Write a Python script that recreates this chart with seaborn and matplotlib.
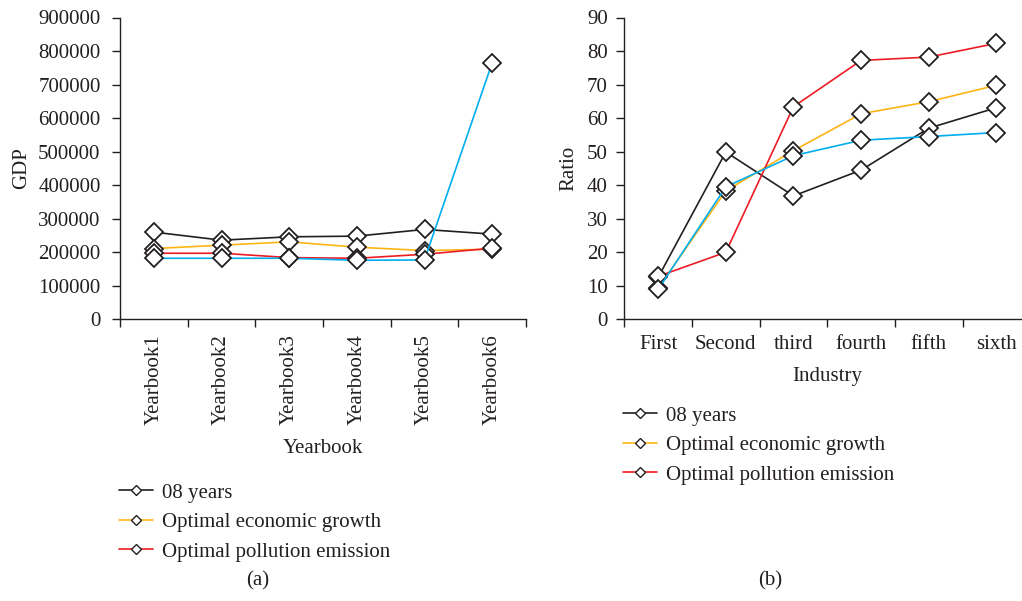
import matplotlib
matplotlib.use("Agg")
import matplotlib.pyplot as plt
import seaborn as sns
import pandas as pd
from matplotlib.lines import Line2D
from matplotlib.ticker import FixedLocator, NullFormatter, FixedFormatter

# ---------------- data ----------------
yearbooks = ["Yearbook1", "Yearbook2", "Yearbook3", "Yearbook4", "Yearbook5", "Yearbook6"]
gdp_08 = [260000, 236000, 246000, 248000, 268000, 254000]
gdp_econ = [211000, 221000, 231000, 215000, 205000, 209000]
gdp_poll = [197000, 197000, 184000, 182000, 194000, 212000]
gdp_other = [182000, 182000, 182000, 176000, 177000, 765000]

industries = ["First", "Second", "third", "fourth", "fifth", "sixth"]
ratio_08 = [12.5, 49.9, 36.8, 44.5, 57.0, 63.1]
ratio_econ = [9.3, 38.3, 50.3, 61.3, 64.9, 69.8]
ratio_poll = [12.8, 20.0, 63.4, 77.2, 78.2, 82.3]
ratio_other = [8.9, 39.5, 48.8, 53.4, 54.5, 55.7]

series_names = ["08 years", "Optimal economic growth", "Optimal pollution emission", "_other"]
colors = ["#231F20", "#FDB515", "#ED1C24", "#00AEEF"]

FS = 15

sns.set_style("ticks")
plt.rcParams["font.family"] = ["Liberation Serif", "DejaVu Serif"]
plt.rcParams["font.size"] = FS
plt.rcParams["axes.linewidth"] = 1.0
plt.rcParams["xtick.major.width"] = 1.0
plt.rcParams["ytick.major.width"] = 1.0
plt.rcParams["text.color"] = "#231F20"
plt.rcParams["axes.labelcolor"] = "#231F20"
plt.rcParams["xtick.color"] = "#231F20"
plt.rcParams["ytick.color"] = "#231F20"
plt.rcParams["axes.edgecolor"] = "#231F20"

fig = plt.figure(figsize=(10.22, 6.01), dpi=100)
axw = 406 / 1022
ax1 = fig.add_axes([120 / 1022, 1 - 319.3 / 601, axw, (319.3 - 17.5) / 601])
ax2 = fig.add_axes([624.3 / 1022, 1 - 319.3 / 601, axw, (319.3 - 17.5) / 601])

edge = "#231F20"


def draw(ax, cats, series, ylabel, xlabel, ypad):
    for name, vals, col in zip(series_names, series, colors):
        df = pd.DataFrame({"cat": cats, "val": vals})
        sns.lineplot(data=df, x="cat", y="val", ax=ax, color=col, linewidth=1.2,
                     marker="D", markersize=9.5, markerfacecolor="white",
                     markeredgecolor=edge, markeredgewidth=1.3, sort=False,
                     label="_nolegend_")
    n = len(cats)
    ax.set_xlim(-0.5, n - 0.5)
    ax.xaxis.set_major_locator(FixedLocator([i - 0.5 for i in range(n + 1)]))
    ax.xaxis.set_major_formatter(NullFormatter())
    ax.xaxis.set_minor_locator(FixedLocator(list(range(n))))
    ax.xaxis.set_minor_formatter(FixedFormatter(cats))
    ax.tick_params(axis="x", which="minor", length=0, labelsize=FS, pad=11)
    ax.tick_params(axis="x", which="major", length=6, direction="out")
    ax.tick_params(axis="y", length=6, direction="out", labelsize=FS, pad=ypad)
    ax.set_ylabel(ylabel, fontsize=FS)
    ax.set_xlabel(xlabel, fontsize=FS, labelpad=10)
    sns.despine(ax=ax)
    if ax.get_legend():
        ax.get_legend().remove()


draw(ax1, yearbooks, [gdp_08, gdp_econ, gdp_poll, gdp_other], "GDP", "Yearbook", 8)
ax1.set_ylim(0, 900000)
ax1.set_yticks(range(0, 900001, 100000))
ax1.set_yticklabels([str(v) for v in range(0, 900001, 100000)])
for lab in ax1.get_xticklabels(minor=True):
    lab.set_rotation(90)
ax1.yaxis.set_label_coords(-0.218, 0.5)

draw(ax2, industries, [ratio_08, ratio_econ, ratio_poll, ratio_other], "Ratio", "Industry", 6)
ax2.set_ylim(0, 90)
ax2.set_yticks(range(0, 91, 10))
ax2.yaxis.set_label_coords(-0.112, 0.5)

handles = [Line2D([0], [0], color=c, lw=1.2, marker="D", markersize=5,
                  markerfacecolor="white", markeredgecolor=edge, markeredgewidth=1.0)
           for c in colors[:3]]

fig.legend(handles, series_names[:3], loc="upper left",
           bbox_to_anchor=(119 / 1022, 1 - 483 / 601), frameon=False,
           fontsize=FS, handlelength=1.65, handletextpad=0.4, labelspacing=0.48,
           borderaxespad=0, borderpad=0)
fig.legend(handles, series_names[:3], loc="upper left",
           bbox_to_anchor=(623 / 1022, 1 - 406 / 601), frameon=False,
           fontsize=FS, handlelength=1.65, handletextpad=0.4, labelspacing=0.48,
           borderaxespad=0, borderpad=0)

fig.text(258 / 1022, 1 - 581 / 601, "(a)", ha="center", va="center", fontsize=FS)
fig.text(770 / 1022, 1 - 581 / 601, "(b)", ha="center", va="center", fontsize=FS)

fig.savefig("out.png", dpi=100)
